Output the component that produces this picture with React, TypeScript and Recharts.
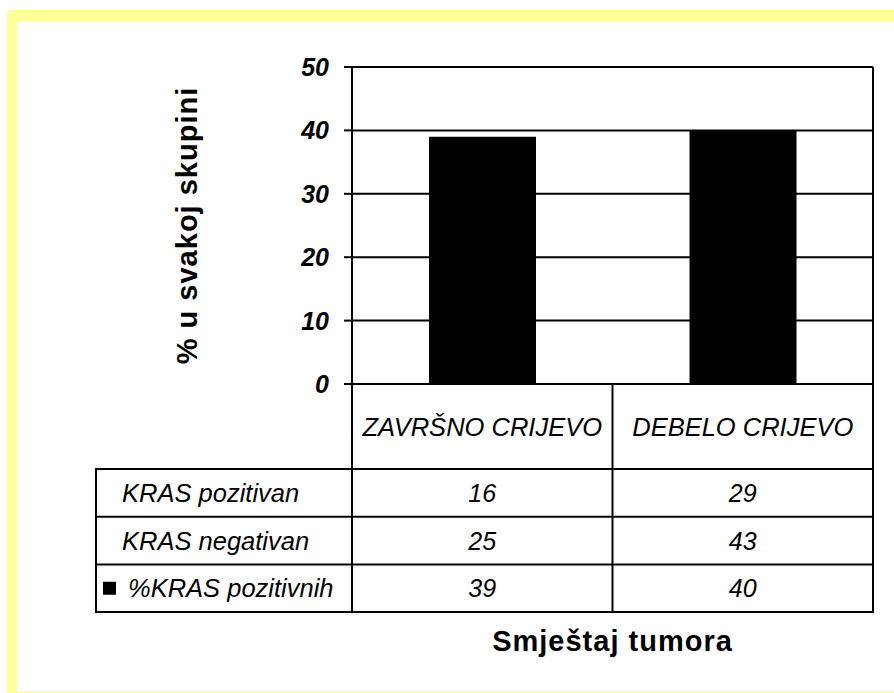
import { BarChart, Bar, XAxis, YAxis, CartesianGrid } from 'recharts';

// Chart data
const categories = ['ZAVRŠNO CRIJEVO', 'DEBELO CRIJEVO'];
const krasPositive = [16, 29];
const krasNegative = [25, 43];
const krasPercent = [39, 40];
const rowLabels = ['KRAS pozitivan', 'KRAS negativan', '%KRAS pozitivnih'];
const yTicks = [0, 10, 20, 30, 40, 50];

const chartData = categories.map((name, i) => ({ name, value: krasPercent[i] }));

// Layout
const CHART_W = 894;
const CHART_H = 693;
const MARGIN = { top: 67, right: 21, left: 0, bottom: 0 };
const Y_AXIS_W = 352;
const X_AXIS_H = 309;
const PLOT_W = CHART_W - MARGIN.left - MARGIN.right - Y_AXIS_W;
const PLOT_H = CHART_H - MARGIN.top - MARGIN.bottom - X_AXIS_H;
const BAND = PLOT_W / categories.length;
const HEADER_H = 85;
const ROW_H = 47.7;
const TABLE_LEFT = 96;

const FONT = 'Arial, "Liberation Sans", sans-serif';
const LINE = { stroke: '#000', strokeWidth: 2 };

function YTick(props: any) {
  const { x, y, payload } = props;
  return (
    <text
      x={x}
      y={y}
      textAnchor="end"
      dominantBaseline="central"
      fontFamily={FONT}
      fontSize={25}
      fontWeight="bold"
      fontStyle="italic"
      fill="#000"
    >
      {payload.value}
    </text>
  );
}

// Each category tick draws its column of the data table
function CategoryTick(props: any) {
  const { x, y, payload } = props;
  const index = props.index ?? categories.indexOf(payload.value);
  const left = x - BAND / 2;
  const right = x + BAND / 2;
  const tableBottom = y + HEADER_H + ROW_H * rowLabels.length;
  const rowValues = [krasPositive[index], krasNegative[index], krasPercent[index]];
  const isLast = index === categories.length - 1;
  const textProps = {
    fontFamily: FONT,
    fontStyle: 'italic',
    fill: '#000',
    textAnchor: 'middle' as const,
    dominantBaseline: 'central' as const,
  };

  return (
    <g>
      <text x={x} y={y + HEADER_H / 2} fontSize={25.5} {...textProps}>
        {payload.value}
      </text>
      {rowValues.map((v, r) => (
        <text key={r} x={x} y={y + HEADER_H + ROW_H * (r + 0.5)} fontSize={25} {...textProps}>
          {v}
        </text>
      ))}
      {rowLabels.map((_, r) => (
        <line
          key={`h${r}`}
          x1={left}
          x2={right}
          y1={y + HEADER_H + ROW_H * r}
          y2={y + HEADER_H + ROW_H * r}
          {...LINE}
        />
      ))}
      <line x1={left} x2={right} y1={tableBottom} y2={tableBottom} {...LINE} />
      <line x1={right} x2={right} y1={isLast ? y - PLOT_H : y} y2={tableBottom + 1} {...LINE} />

      {index === 0 && (
        <g>
          <line x1={left} x2={left} y1={y} y2={tableBottom + 1} {...LINE} />
          <line x1={TABLE_LEFT} x2={TABLE_LEFT} y1={y + HEADER_H - 1} y2={tableBottom + 1} {...LINE} />
          {rowLabels.map((label, r) => {
            const rowTop = y + HEADER_H + ROW_H * r;
            const hasKey = r === rowLabels.length - 1;
            return (
              <g key={`l${r}`}>
                <line x1={TABLE_LEFT} x2={left} y1={rowTop} y2={rowTop} {...LINE} />
                {hasKey && (
                  <rect x={TABLE_LEFT + 7} y={rowTop + ROW_H / 2 - 6.5} width={13} height={13} fill="#000" />
                )}
                <text
                  x={hasKey ? TABLE_LEFT + 32 : TABLE_LEFT + 26}
                  y={rowTop + ROW_H / 2}
                  fontSize={25.5}
                  fontFamily={FONT}
                  fontStyle="italic"
                  fill="#000"
                  dominantBaseline="central"
                >
                  {label}
                </text>
              </g>
            );
          })}
          <line x1={TABLE_LEFT} x2={left} y1={tableBottom} y2={tableBottom} {...LINE} />
        </g>
      )}
    </g>
  );
}

function YTitle(props: any) {
  const { viewBox } = props;
  const cx = 187;
  const cy = viewBox.y + viewBox.height / 2;
  return (
    <text
      x={cx}
      y={cy}
      transform={`rotate(-90, ${cx}, ${cy})`}
      textAnchor="middle"
      dominantBaseline="central"
      fontFamily={FONT}
      fontSize={29}
      fontWeight="bold"
      letterSpacing={1}
      fill="#000"
    >
      % u svakoj skupini
    </text>
  );
}

function XTitle(props: any) {
  const { viewBox } = props;
  return (
    <text
      x={viewBox.x + viewBox.width / 2}
      y={viewBox.y + 257}
      textAnchor="middle"
      dominantBaseline="central"
      fontFamily={FONT}
      fontSize={29}
      fontWeight="bold"
      letterSpacing={1}
      fill="#000"
    >
      Smještaj tumora
    </text>
  );
}

export default function App() {
  return (
    <div style={{ position: 'absolute', left: 0, top: 0, width: CHART_W, height: CHART_H, background: '#fff' }}>
      {/* yellow frame */}
      <div style={{ position: 'absolute', left: 7, top: 10, width: 887, height: 683, background: '#FFFF99' }} />
      <div style={{ position: 'absolute', left: 17, top: 21, width: 877, height: 670, background: '#fff' }} />

      <div style={{ position: 'absolute', left: 0, top: 0 }}>
        <BarChart width={CHART_W} height={CHART_H} data={chartData} margin={MARGIN}>
          <CartesianGrid vertical={false} stroke="#000" strokeWidth={2} />
          <XAxis
            dataKey="name"
            height={X_AXIS_H}
            axisLine={false}
            tickLine={false}
            tickSize={0}
            tickMargin={0}
            interval={0}
            tick={<CategoryTick />}
            label={<XTitle />}
          />
          <YAxis
            width={Y_AXIS_W}
            domain={[0, 50]}
            ticks={yTicks}
            interval={0}
            axisLine={{ stroke: '#000', strokeWidth: 2 }}
            tickLine={{ stroke: '#000', strokeWidth: 2 }}
            tickSize={8}
            tickMargin={15}
            tick={<YTick />}
            label={<YTitle />}
          />
          <Bar dataKey="value" fill="#000" barSize={107} isAnimationActive={false} />
        </BarChart>
      </div>
    </div>
  );
}
